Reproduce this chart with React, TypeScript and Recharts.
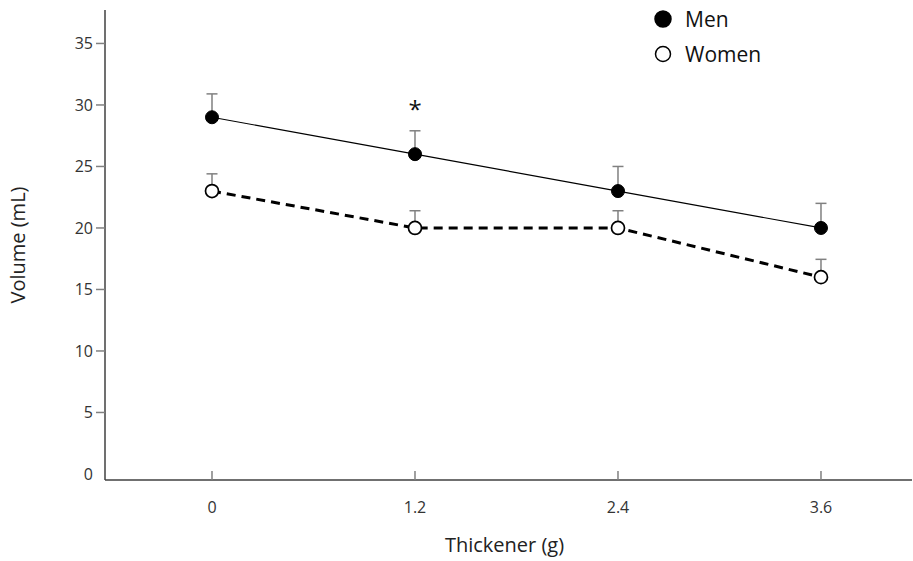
import { LineChart, Line, XAxis, YAxis, ErrorBar, Legend, LabelList } from 'recharts'

const thickener = [0, 1.2, 2.4, 3.6]
const menVolume = [29, 26, 23, 20]
const womenVolume = [23, 20, 20, 16]
const menSE = [1.9, 1.9, 2.0, 2.0]
const womenSE = [1.4, 1.4, 1.4, 1.45]
const menMarks = ['', '*', '', '']
const yTicks = [0, 5, 10, 15, 20, 25, 30, 35]
const legendNames = ['Men', 'Women']

const FONT = '"Open Sans", sans-serif'

const data = thickener.map((t, i) => ({
  t,
  men: menVolume[i],
  women: womenVolume[i],
  menErr: [0, menSE[i]],
  womenErr: [0, womenSE[i]],
  mark: menMarks[i]
}))

const YTick = (props: any) => {
  const { x, y, payload } = props
  return (
    <g>
      {payload.value !== 0 && <line x1={x - 9} x2={x} y1={y} y2={y} stroke="#808080" strokeWidth={1.5} />}
      <text x={x - 12} y={y} dy="0.35em" textAnchor="end" fontSize={16} fontFamily={FONT} fill="#333">
        {payload.value}
      </text>
    </g>
  )
}

const XTick = (props: any) => {
  const { x, y, payload } = props
  return (
    <g>
      <line x1={x} x2={x} y1={y} y2={y - 9} stroke="#808080" strokeWidth={1.5} />
      <text x={x} y={y + 27} dy="0.35em" textAnchor="middle" fontSize={16} fontFamily={FONT} fill="#333">
        {payload.value}
      </text>
    </g>
  )
}

const LegendContent = (props: any) => {
  const { payload = [] } = props
  return (
    <div style={{ fontFamily: FONT }}>
      {payload
        .filter((entry: any) => legendNames.includes(entry.value))
        .map((entry: any) => (
          <div key={entry.value} style={{ display: 'flex', alignItems: 'center', height: 35 }}>
            <svg width={20} height={20} style={{ marginRight: 12 }}>
              <circle
                cx={10}
                cy={10}
                r={entry.value === 'Men' ? 8 : 7.5}
                fill={entry.value === 'Men' ? '#000' : '#fff'}
                stroke="#000"
                strokeWidth={1.5}
              />
            </svg>
            <span style={{ fontSize: 21, color: '#111' }}>{entry.value}</span>
          </div>
        ))}
    </div>
  )
}

export default function App() {
  return (
    <div style={{ position: 'absolute', left: 0, top: 0, width: 913, height: 561, background: '#fff' }}>
      <LineChart width={913} height={561} data={data} margin={{ top: 10, right: 1, bottom: 0, left: 0 }}>
        <XAxis
          dataKey="t"
          type="number"
          domain={[-0.6325, 4.138]}
          ticks={thickener}
          allowDataOverflow
          height={81}
          stroke="#707070"
          strokeWidth={2}
          tickLine={false}
          tickSize={0}
          tickMargin={0}
          tick={<XTick />}
          label={{
            value: 'Thickener (g)',
            position: 'insideBottom',
            offset: 9,
            dx: -4,
            style: { fontSize: 20, fontFamily: FONT, fill: '#222' }
          }}
        />
        <YAxis
          type="number"
          domain={[-0.49, 37.72]}
          ticks={yTicks}
          allowDataOverflow
          width={105}
          stroke="#404040"
          strokeWidth={1.5}
          tickLine={false}
          tickSize={0}
          tickMargin={0}
          tick={<YTick />}
          label={{
            value: 'Volume (mL)',
            angle: -90,
            position: 'insideLeft',
            offset: 18,
            style: { fontSize: 20, fontFamily: FONT, fill: '#222', textAnchor: 'middle' }
          }}
        />
        <Legend
          layout="vertical"
          verticalAlign="middle"
          align="center"
          wrapperStyle={{ top: 1, left: 653, width: 160 }}
          content={<LegendContent />}
        />
        <Line
          dataKey="men"
          name="Men"
          stroke="#000"
          strokeWidth={1.2}
          dot={false}
          isAnimationActive={false}
        >
          <ErrorBar dataKey="menErr" direction="y" width={5.5} stroke="#808080" strokeWidth={1.5} />
          <LabelList dataKey="mark" position="top" offset={36} style={{ fontSize: 24, fontFamily: FONT, fill: '#111' }} />
        </Line>
        <Line
          dataKey="women"
          name="Women"
          stroke="#000"
          strokeWidth={3}
          strokeDasharray="9 6"
          dot={false}
          isAnimationActive={false}
        >
          <ErrorBar dataKey="womenErr" direction="y" width={5.5} stroke="#808080" strokeWidth={1.5} />
        </Line>
        <Line
          dataKey="men"
          name="men-points"
          legendType="none"
          stroke="none"
          dot={{ r: 6.5, fill: '#000', stroke: '#000', strokeWidth: 1 }}
          isAnimationActive={false}
        />
        <Line
          dataKey="women"
          name="women-points"
          legendType="none"
          stroke="none"
          dot={{ r: 6.5, fill: '#fff', stroke: '#000', strokeWidth: 1.7 }}
          isAnimationActive={false}
        />
      </LineChart>
    </div>
  )
}
